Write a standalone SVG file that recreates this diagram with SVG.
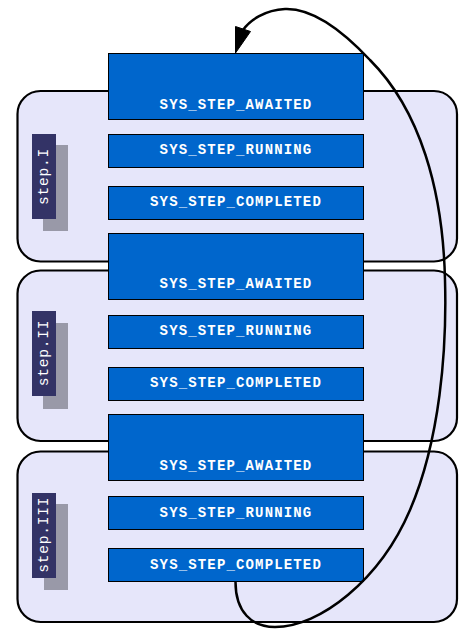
<svg xmlns="http://www.w3.org/2000/svg" width="472" height="643" viewBox="0 0 472 643">
<style>
.cl{fill:#e6e6fa;stroke:#000;stroke-width:2.2}
.st{fill:#0066cc;stroke:#000;stroke-width:1}
.stt{fill:#fff;font-family:"Liberation Mono","DejaVu Sans Mono",monospace;font-weight:bold;font-size:14px;letter-spacing:1.15px;text-anchor:middle}
.lb{fill:#333366}
.sh{fill:#9999a8}
.lbt{fill:#fff;font-family:"Liberation Mono","DejaVu Sans Mono",monospace;font-size:14.5px;letter-spacing:0.8px;text-anchor:middle;dominant-baseline:central}
.edge{fill:none;stroke:#000;stroke-width:2.5}
</style>
<rect width="472" height="643" fill="#fff"/>
<g id="cluster-step1"><rect class="cl" x="17.5" y="91" width="439.5" height="170.5" rx="23"/></g>
<g id="cluster-step2"><rect class="cl" x="17.5" y="270.5" width="439.5" height="170.5" rx="23"/></g>
<g id="cluster-step3"><rect class="cl" x="17.5" y="451.5" width="439.5" height="170.5" rx="23"/></g>
<g id="label-step1"><rect class="sh" x="43" y="145" width="25" height="86"/><rect class="lb" x="32" y="134" width="24" height="85"/><text class="lbt" transform="translate(44 176.5) rotate(-90)">step.I</text></g>
<g id="label-step2"><rect class="sh" x="43" y="323" width="25" height="86"/><rect class="lb" x="32" y="311" width="24" height="85"/><text class="lbt" transform="translate(44 353) rotate(-90)">step.II</text></g>
<g id="label-step3"><rect class="sh" x="44" y="504" width="24" height="86"/><rect class="lb" x="32" y="493" width="24" height="85"/><text class="lbt" transform="translate(44 534.7) rotate(-90)">step.III</text></g>
<g id="s1-awaited"><rect class="st" x="108.5" y="53.5" width="255" height="66"/><text class="stt" x="236" y="108.8">SYS_STEP_AWAITED</text></g>
<g id="s1-running"><rect class="st" x="108.5" y="134.5" width="255" height="33"/><text class="stt" x="236" y="153.8">SYS_STEP_RUNNING</text></g>
<g id="s1-completed"><rect class="st" x="108.5" y="186.5" width="255" height="33"/><text class="stt" x="236" y="206.2">SYS_STEP_COMPLETED</text></g>
<g id="s2-awaited"><rect class="st" x="108.5" y="233.5" width="255" height="66"/><text class="stt" x="236" y="287.8">SYS_STEP_AWAITED</text></g>
<g id="s2-running"><rect class="st" x="108.5" y="315.5" width="255" height="33"/><text class="stt" x="236" y="334.8">SYS_STEP_RUNNING</text></g>
<g id="s2-completed"><rect class="st" x="108.5" y="367.5" width="255" height="33"/><text class="stt" x="236" y="387.2">SYS_STEP_COMPLETED</text></g>
<g id="s3-awaited"><rect class="st" x="108.5" y="414.5" width="255" height="66"/><text class="stt" x="236" y="470.2">SYS_STEP_AWAITED</text></g>
<g id="s3-running"><rect class="st" x="108.5" y="496.5" width="255" height="33"/><text class="stt" x="236" y="516.8">SYS_STEP_RUNNING</text></g>
<g id="s3-completed"><rect class="st" x="108.5" y="548.5" width="255" height="33"/><text class="stt" x="236" y="569.2">SYS_STEP_COMPLETED</text></g>
<g id="connectors">
<path class="edge" d="M235.5,582 C235.5,612 252,627 275,627 C320,627 380,580 410,510 C440,440 447,350 445,280 C443,190 420,110 370,60 C340,28 310,8 285,9 C265,10 250,20 243,30"/>
<polygon points="235.5,26.5 250.5,31.5 235.5,53" fill="#000" stroke="#000" stroke-width="1"/>
</g>
</svg>
